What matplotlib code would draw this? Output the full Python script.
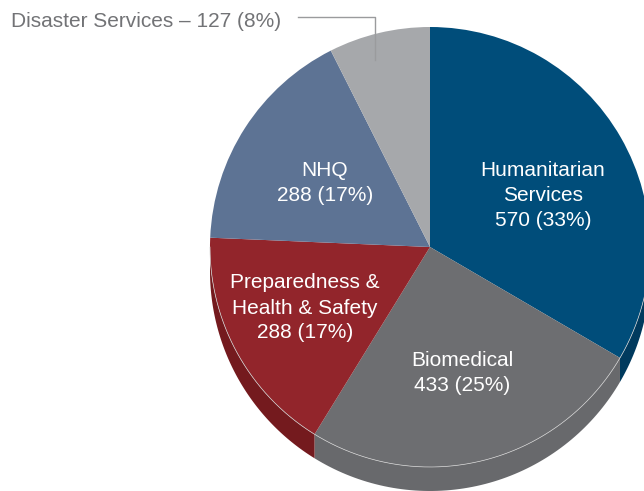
import matplotlib
matplotlib.use("Agg")
import matplotlib.pyplot as plt
from matplotlib.patches import Polygon
import numpy as np

plt.rcParams['font.family'] = ['Liberation Sans', 'DejaVu Sans']

# donnees
categories = ["Humanitarian\nServices", "Biomedical", "Preparedness &\nHealth & Safety",
              "NHQ", "Disaster Services"]
valeurs = [570, 433, 288, 288, 127]
pourcents = [33, 25, 17, 17, 8]
couleurs = ["#004d7a", "#6d6e71", "#92252b", "#5d7394", "#a6a8ab"]
couleurs_cote = ["#003a5e", "#68696c", "#741a1e", "#4b5f7c", "#8e9093"]

W, H = 644, 491
cx, cy, r = 430, H - 247, 220
depth = 24

fig = plt.figure(figsize=(W / 100, H / 100), dpi=100)
ax = fig.add_axes([0, 0, 1, 1])

wedges, _ = ax.pie(valeurs, colors=couleurs, startangle=90, counterclock=False,
                   center=(cx, cy), radius=r, frame=True,
                   wedgeprops=dict(linewidth=0))
for w in wedges:
    w.set_zorder(3)
ax.set_xlim(0, W)
ax.set_ylim(0, H)
ax.set_aspect('equal')
ax.axis('off')

# cote 3D : partie basse du disque
for w, c in zip(wedges, couleurs_cote):
    t1, t2 = w.theta1, w.theta2
    for off in (0, -360, 360):
        b1, b2 = max(t1 + off, 180), min(t2 + off, 360)
        if b2 <= b1:
            continue
        th = np.radians(np.linspace(b1, b2, 80))
        xs = cx + r * np.cos(th)
        ys = cy + r * np.sin(th)
        pts = np.vstack([np.column_stack([xs, ys]),
                         np.column_stack([xs[::-1], ys[::-1] - depth])])
        ax.add_patch(Polygon(pts, closed=True, facecolor=c, edgecolor='none', zorder=2))

# liseré clair sur le bord
th = np.radians(np.linspace(180, 360, 200))
ax.plot(cx + r * np.cos(th), cy + r * np.sin(th), color='#d0d0d0', lw=0.5, zorder=4)

# etiquettes
lab_pos = {0: (543, 195), 1: (462, 373), 2: (305, 308), 3: (325, 183)}
for i, (x, y) in lab_pos.items():
    txt = f"{categories[i]}\n{valeurs[i]} ({pourcents[i]}%)"
    ax.text(x, H - y, txt, color='white', fontsize=15, ha='center', va='center',
            linespacing=1.4, zorder=5)

ax.text(11, H - 21, f"{categories[4]} \u2013 {valeurs[4]} ({pourcents[4]}%)",
        color='#727376', fontsize=15, ha='left', va='center', zorder=5)
ax.plot([298, 375, 375], [H - 17, H - 17, H - 60], color='#9a9b9d', lw=1.0, zorder=5)

fig.savefig("out.png", dpi=100)
